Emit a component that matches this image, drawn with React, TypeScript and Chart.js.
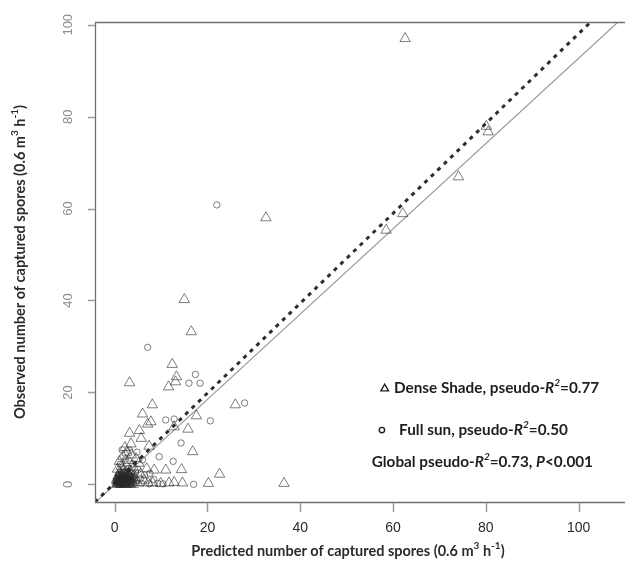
import React, { useEffect, useRef } from "react";
import { Chart, registerables } from "chart.js";
Chart.register(...registerables);

type P = { x: number; y: number };
const pt = (a: number[][]): P[] => a.map(([x, y]) => ({ x, y }));

// Dense Shade (triangles)
const denseShade: P[] = pt([
  [62.6, 97.0], [32.6, 58.0], [74.1, 66.9], [80.5, 76.7], [80.1, 77.9], [62.1, 58.9], [58.5, 55.3],
  [15.0, 40.2], [16.5, 33.2], [12.4, 26.1], [13.3, 23.4], [13.1, 22.3], [11.6, 21.2], [3.2, 22.1],
  [8.1, 17.3], [26.0, 17.3], [6.0, 15.3], [7.1, 13.1], [7.8, 13.6], [17.6, 14.9], [12.8, 12.5],
  [15.8, 12.0], [3.2, 11.1], [5.3, 11.7], [5.7, 10.0], [7.4, 8.3], [16.8, 7.1], [14.4, 3.2],
  [11.0, 3.1], [8.5, 3.1], [22.6, 2.2], [36.5, 0.2], [20.2, 0.2], [14.6, 0.3], [12.8, 0.4],
  [11.7, 0.3], [9.9, 0.2], [8.2, 0.3],
  [0.5, 0.2], [0.9, 0.9], [1.3, 0.1], [1.6, 1.4], [2.0, 0.5], [2.3, 1.9], [2.7, 0.3], [3.0, 1.1],
  [3.4, 0.0], [3.8, 0.7], [0.7, 1.8], [1.1, 2.6], [1.9, 3.0], [2.6, 2.4], [3.3, 2.9], [1.4, 3.9],
  [2.2, 4.6], [3.0, 5.2], [1.8, 6.1], [2.6, 7.0], [3.6, 6.4], [2.2, 8.0], [4.1, 3.6], [4.4, 1.5],
  [4.9, 0.4], [5.6, 2.2], [6.3, 0.9], [6.9, 3.4], [1.0, 5.0], [0.6, 3.3], [1.5, 0.0], [2.4, 0.0],
  [4.0, 0.0], [5.2, 4.6], [4.6, 5.6], [7.2, 0.3], [3.5, 8.8],
  [0.8, 0.4], [1.1, 0.0], [1.4, 0.7], [1.8, 0.2], [2.2, 1.0], [2.5, 1.5], [2.9, 0.6], [3.2, 0.2],
  [3.6, 1.3], [0.4, 1.0], [1.0, 1.3], [1.7, 2.0], [2.8, 1.7], [3.5, 2.0], [0.9, 0.6], [2.0, 1.8],
  [1.2, 2.2], [3.1, 1.9], [2.4, 0.8], [1.9, 1.1],
  [0.6, 0.0], [1.2, 0.5], [1.6, 0.9], [2.1, 0.1], [2.6, 1.0], [3.0, 0.4], [3.3, 1.4], [0.8, 1.5],
  [1.5, 1.9], [2.3, 1.3], [2.9, 2.1], [0.5, 0.7], [1.3, 1.7], [2.0, 2.3], [3.7, 0.3], [4.2, 0.9],
]);

// Full sun (circles)
const fullSun: P[] = pt([
  [22.0, 60.8], [7.1, 29.8], [17.4, 23.9], [16.0, 22.0], [18.4, 22.0], [28.0, 17.7], [20.6, 13.8],
  [11.0, 14.0], [12.8, 14.2], [14.3, 9.0], [9.6, 6.0], [12.6, 5.0], [17.0, 0.0], [10.4, 0.1],
  [9.3, 0.2], [7.4, 0.1], [5.8, 0.2],
  [0.3, 0.5], [0.8, 0.0], [1.2, 1.1], [1.7, 0.4], [2.1, 1.3], [2.5, 0.1], [2.9, 0.8], [3.3, 1.6],
  [3.6, 0.4], [4.2, 1.0], [0.9, 2.2], [1.5, 2.0], [2.0, 2.7], [2.8, 3.4], [3.7, 2.3], [4.5, 2.6],
  [1.2, 4.4], [2.4, 5.5], [3.9, 4.5], [5.0, 3.2], [5.5, 1.2], [6.4, 2.0], [3.2, 7.4], [1.6, 7.5],
  [4.8, 7.0], [6.0, 5.3], [7.6, 2.4], [8.4, 1.1],
  [0.6, 0.3], [1.0, 0.8], [1.5, 1.6], [2.3, 0.6], [2.7, 1.2], [3.1, 0.5], [3.5, 1.0], [1.3, 0.3],
  [2.0, 0.2], [0.7, 1.3], [1.8, 1.7], [3.0, 2.2], [4.0, 1.7],
  [0.4, 0.9], [1.1, 0.4], [1.9, 0.9], [2.6, 0.5], [3.4, 0.0], [0.9, 1.8], [2.2, 2.0], [1.4, 1.2],
]);

// Lines
const dashedLine: P[] = pt([[-4.3, -3.9], [102.6, 100.6]]);
const grayLine: P[] = pt([[-5, -4.7], [108.5, 100.6]]);

const xTicks = [0, 20, 40, 60, 80, 100];
const yTicks = [0, 20, 40, 60, 80, 100];

const xTitle = "Predicted number of captured spores (0.6 m";
const yTitle = "Observed number of captured spores (0.6 m";
const legendShade = "Dense Shade, pseudo-";
const legendSun = "Full sun, pseudo-";
const r2Shade = "=0.77";
const r2Sun = "=0.50";
const globalText = "Global pseudo-";
const r2Global = "=0.73, ";
const pText = "<0.001";

type Run = { t: string; i?: boolean; sup?: boolean };

function drawRuns(
  ctx: CanvasRenderingContext2D, runs: Run[], x: number, y: number,
  size: number, family: string, align: "left" | "center", color: string
) {
  const font = (r: Run) =>
    `${r.i ? "italic " : ""}bold ${r.sup ? Math.round(size * 0.68) : size}px ${family}`;
  const widths = runs.map((r) => { ctx.font = font(r); return ctx.measureText(r.t).width; });
  const total = widths.reduce((a, b) => a + b, 0);
  let cx = align === "center" ? x - total / 2 : x;
  ctx.fillStyle = color;
  ctx.textBaseline = "middle";
  ctx.textAlign = "left";
  runs.forEach((r, k) => {
    ctx.font = font(r);
    ctx.fillText(r.t, cx, r.sup ? y - size * 0.36 : y);
    cx += widths[k];
  });
}

const axesPlugin = {
  id: "rAxes",
  afterDraw(chart: any) {
    const { ctx, chartArea: a, scales } = chart;
    const sx = scales.x, sy = scales.y;
    ctx.save();
    ctx.strokeStyle = "#707070";
    ctx.lineWidth = 1.3;
    ctx.beginPath();
    ctx.moveTo(a.right, a.top + 0.5);
    ctx.lineTo(a.left + 0.5, a.top + 0.5);
    ctx.lineTo(a.left + 0.5, a.bottom + 0.5);
    ctx.lineTo(a.right, a.bottom + 0.5);
    ctx.stroke();
    ctx.strokeStyle = "#9a9a9a";
    ctx.lineWidth = 1.5;
    xTicks.forEach((v) => {
      const px = Math.round(sx.getPixelForValue(v)) + 0.5;
      ctx.beginPath(); ctx.moveTo(px, a.bottom + 1); ctx.lineTo(px, a.bottom + 10); ctx.stroke();
    });
    yTicks.forEach((v) => {
      const py = Math.round(sy.getPixelForValue(v)) + 0.5;
      ctx.beginPath(); ctx.moveTo(a.left - 7, py); ctx.lineTo(a.left, py); ctx.stroke();
    });
    ctx.textAlign = "center";
    ctx.textBaseline = "middle";
    ctx.fillStyle = "#2a2a2a";
    ctx.font = "14px 'Liberation Sans'";
    xTicks.forEach((v) => ctx.fillText(String(v), sx.getPixelForValue(v), a.bottom + 26));
    ctx.fillStyle = "#8c8c8c";
    ctx.font = "13px 'Liberation Sans'";
    yTicks.forEach((v) => {
      ctx.save();
      ctx.translate(a.left - 27, sy.getPixelForValue(v));
      ctx.rotate(-Math.PI / 2);
      ctx.fillText(String(v), 0, 0);
      ctx.restore();
    });
    const unitRuns = (base: string): Run[] => [
      { t: base }, { t: "3", sup: true }, { t: " h" }, { t: "-1", sup: true }, { t: ")" },
    ];
    drawRuns(ctx, unitRuns(xTitle), 348, a.bottom + 49, 14.5, "Lato", "center", "#2b2b2b");
    ctx.save();
    ctx.translate(20, (a.top + a.bottom) / 2);
    ctx.rotate(-Math.PI / 2);
    drawRuns(ctx, unitRuns(yTitle), 0, 0, 14.5, "Lato", "center", "#2b2b2b");
    ctx.restore();
    const ax = (v: number) => sx.getPixelForValue(v);
    const ay = (v: number) => sy.getPixelForValue(v);
    const y1 = ay(20.9), y2 = ay(11.8), y3 = ay(4.9);
    ctx.strokeStyle = "#222";
    ctx.lineWidth = 1.4;
    const tx = ax(58.2);
    ctx.beginPath();
    ctx.moveTo(tx, y1 - 4); ctx.lineTo(tx + 3.8, y1 + 2.6); ctx.lineTo(tx - 3.8, y1 + 2.6); ctx.closePath();
    ctx.stroke();
    ctx.beginPath(); ctx.arc(ax(57.6), y2, 2.7, 0, Math.PI * 2); ctx.stroke();
    drawRuns(ctx, [{ t: legendShade }, { t: "R", i: true }, { t: "2", i: true, sup: true }, { t: r2Shade }],
      ax(60.2), y1, 15.3, "Lato", "left", "#1e1e1e");
    drawRuns(ctx, [{ t: legendSun }, { t: "R", i: true }, { t: "2", i: true, sup: true }, { t: r2Sun }],
      ax(61.3), y2, 15.3, "Lato", "left", "#1e1e1e");
    drawRuns(ctx, [{ t: globalText }, { t: "R", i: true }, { t: "2", i: true, sup: true }, { t: r2Global },
      { t: "P", i: true }, { t: pText }],
      ax(55.4), y3, 15.3, "Lato", "left", "#1e1e1e");
    ctx.restore();
  },
};

export default function App() {
  const ref = useRef<HTMLCanvasElement>(null);
  useEffect(() => {
    document.body.style.margin = "0";
    const canvas = ref.current!;
    const markerColor = "rgba(40,40,40,0.6)";
    const chart = new Chart(canvas, {
      type: "scatter",
      data: {
        datasets: [
          {
            type: "line", data: grayLine, borderColor: "#9a9a9a", borderWidth: 1.2,
            pointRadius: 0, fill: false, order: 3,
          } as any,
          {
            type: "line", data: dashedLine, borderColor: "#2e2e2e", borderWidth: 3,
            borderDash: [4, 5], pointRadius: 0, fill: false, order: 2,
          } as any,
          {
            label: "Dense Shade", data: denseShade, pointStyle: "triangle", pointRadius: 6,
            borderColor: markerColor, backgroundColor: "rgba(0,0,0,0)", borderWidth: 1, order: 1,
          },
          {
            label: "Full sun", data: fullSun, pointStyle: "circle", pointRadius: 3.2,
            borderColor: markerColor, backgroundColor: "rgba(0,0,0,0)", borderWidth: 1, order: 1,
          },
        ],
      },
      options: {
        responsive: false,
        animation: false,
        layout: { padding: { left: 95, top: 22, right: 0, bottom: 66 } },
        scales: {
          x: { type: "linear", min: -4.25, max: 110, display: false },
          y: { type: "linear", min: -3.85, max: 100.6, display: false },
        },
        plugins: { legend: { display: false }, tooltip: { enabled: false } },
        events: [],
      },
      plugins: [axesPlugin],
    });
    return () => chart.destroy();
  }, []);
  return (
    <div style={{ width: 632, height: 568, background: "#fff" }}>
      <canvas ref={ref} width={632} height={568} style={{ display: "block" }} />
    </div>
  );
}
